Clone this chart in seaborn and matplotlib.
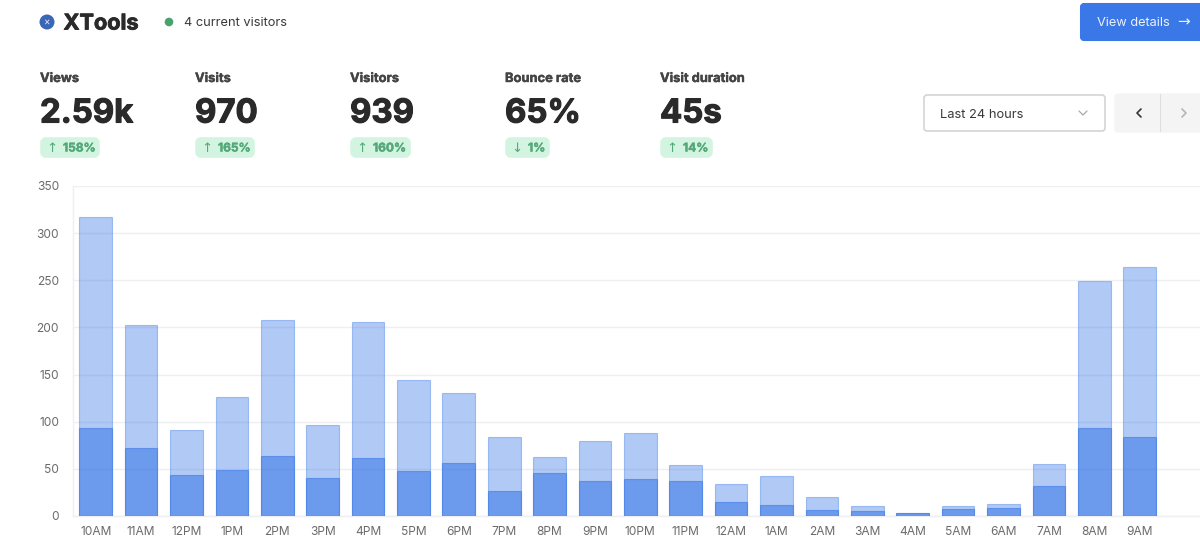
import matplotlib
matplotlib.use("Agg")
import matplotlib.pyplot as plt
import matplotlib.patheffects as pe
from matplotlib.patches import FancyBboxPatch, Circle, Rectangle
import seaborn as sns
import pandas as pd

hours = ["10AM","11AM","12PM","1PM","2PM","3PM","4PM","5PM","6PM","7PM","8PM","9PM",
         "10PM","11PM","12AM","1AM","2AM","3AM","4AM","5AM","6AM","7AM","8AM","9AM"]
views = [317,203,91,126,208,97,206,144,130,84,63,80,88,54,34,42,20,11,3,11,13,55,249,264]
visitors = [93,72,43,49,64,40,62,48,56,27,46,37,39,37,15,12,6,5,3,7,8,32,93,84]
y_ticks = [0,50,100,150,200,250,300,350]

metric_names = ["Views","Visits","Visitors","Bounce rate","Visit duration"]
metric_values = ["2.59k","970","939","65%","45s"]
metric_arrows = ["↑","↑","↑","↓","↑"]
metric_changes = ["158%","165%","160%","1%","14%"]
site_name = "XTools"
current = "4 current visitors"
button_label = "View details"
range_label = "Last 24 hours"

sns.set_theme(style="white")
plt.rcParams['font.family'] = ['Inter', 'DejaVu Sans']

W, H = 1200, 548
fig = plt.figure(figsize=(W/100, H/100), dpi=100, facecolor="white")

x0, x1, ytop, ybot = 73, 1200, 186, 516
ax = fig.add_axes([x0/W, 1-ybot/H, (x1-x0)/W, (ybot-ytop)/H])
df = pd.DataFrame({"hour": hours, "views": views, "visitors": visitors})
for col, a in [("views", 0.40), ("visitors", 0.58)]:
    sns.barplot(data=df, x="hour", y=col, ax=ax, color="#3B78E7", saturation=1, width=0.72,
                order=hours, edgecolor="#3B78E7", linewidth=0.8, alpha=a, zorder=3)
ax.set_xlim(-0.5, 24.33)
ax.set_ylim(0, 350)
ax.set_yticks(y_ticks)
ax.set_xlabel(""); ax.set_ylabel("")
ax.yaxis.grid(True, color="#EDEFF3", lw=1, zorder=0)
ax.xaxis.grid(False)
ax.set_axisbelow(True)
for s in ["top", "right"]:
    ax.spines[s].set_visible(False)
for s in ["left", "bottom"]:
    ax.spines[s].set_color("#EDEFF3"); ax.spines[s].set_linewidth(1)
ax.tick_params(axis="x", length=0, pad=7, labelsize=8.6, labelcolor="#6B6B6B")
ax.tick_params(axis="y", length=0, pad=10, labelsize=8.6, labelcolor="#6B6B6B")

ov = fig.add_axes([0, 0, 1, 1], zorder=5)
ov.set_xlim(0, W); ov.set_ylim(H, 0); ov.axis("off"); ov.patch.set_alpha(0)

def heavy(w, c):
    return [pe.withStroke(linewidth=w, foreground=c)]

ov.add_patch(Circle((47, 22), 7.5, color="#3A66B8", lw=0))
ov.text(47, 22, "×", color="#DDE8FA", fontsize=7, ha="center", va="center")
ov.text(63.5, 23.5, site_name, fontsize=15.6, fontweight="bold", color="#2A2A2A", va="center",
        path_effects=heavy(0.6, "#2A2A2A"))
ov.add_patch(Circle((169, 22), 4.3, color="#46A26F", lw=0))
ov.text(184.5, 23, current, fontsize=9.25, color="#3A3A3A", va="center")

xs = [40, 195, 350, 505, 660]
widths = [60, 60, 61, 45, 53]
for x, n, v, a, c, w in zip(xs, metric_names, metric_values, metric_arrows, metric_changes, widths):
    ov.text(x, 79, n, fontsize=9.3, fontweight="bold", color="#444444", va="center",
            path_effects=heavy(0.3, "#444444"))
    ov.text(x, 114, v, fontsize=23.7, fontweight="bold", color="#2A2A2A", va="center",
            path_effects=heavy(0.8, "#2A2A2A"))
    ov.add_patch(FancyBboxPatch((x+3, 140), w-6, 15, boxstyle="round,pad=0,rounding_size=3",
                                fc="#D3F4E0", ec="#D3F4E0", lw=4))
    ov.text(x+11.5, 148, a, fontsize=9.5, color="#55A87A", ha="center", va="center",
            family="DejaVu Sans")
    ov.text(x+23, 148.5, c, fontsize=8.6, fontweight="bold", color="#55A87A", va="center",
            path_effects=heavy(0.3, "#55A87A"))

ov.add_patch(FancyBboxPatch((1081, 4), 130, 36, boxstyle="round,pad=0,rounding_size=3",
                            fc="#3B78E7", ec="#3B78E7", lw=1.5))
ov.text(1097, 23, button_label, fontsize=9.2, color="#EAF1FD", va="center")
ov.text(1184, 22, "→", fontsize=11, color="#EAF1FD", ha="center", va="center", family="DejaVu Sans")

ov.add_patch(FancyBboxPatch((924, 95), 181, 36, boxstyle="round,pad=0,rounding_size=3",
                            fc="white", ec="#D4D4D4", lw=1.2))
ov.text(940, 114.5, range_label, fontsize=9.3, color="#3A3A3A", va="center")
ov.plot([1079, 1083, 1087], [111, 115, 111], color="#A8A8A8", lw=0.9)

ov.add_patch(FancyBboxPatch((1115, 94), 92, 38, boxstyle="round,pad=0,rounding_size=3",
                            fc="#F4F4F4", ec="#F4F4F4", lw=1))
ov.add_patch(Rectangle((1160, 94), 1.2, 38, fc="#DDDDDD", ec="none"))
ov.plot([1141, 1137, 1141], [109, 113, 117], color="#333333", lw=1.2)
ov.plot([1182, 1186, 1182], [109, 113, 117], color="#B5B5B5", lw=1.2)

fig.savefig("out.png", dpi=100)
